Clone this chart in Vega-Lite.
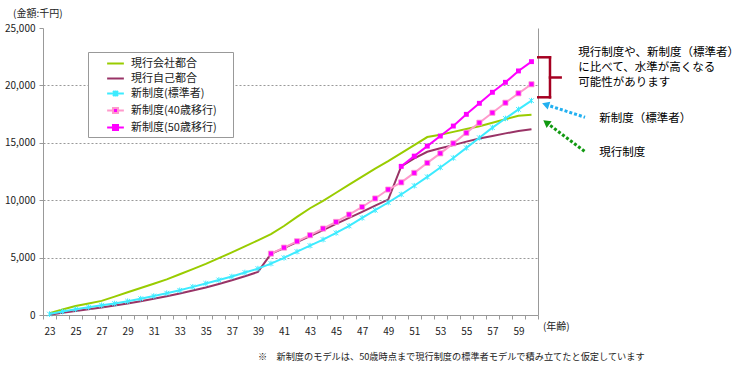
{
"$schema": "https://vega.github.io/schema/vega-lite/v6.json",
"width": 495, "height": 287,
"autosize": {"type": "none"},
"padding": {"left": 43, "top": 28, "right": 212, "bottom": 55},
"background": "white",
"config": {"view": {"stroke": null}, "font": "Noto Sans CJK JP"},
"datasets": {
"main": [
{"age":23,"series":"現行会社都合","value":150},{"age":24,"series":"現行会社都合","value":480},{"age":25,"series":"現行会社都合","value":780},{"age":26,"series":"現行会社都合","value":1000},{"age":27,"series":"現行会社都合","value":1230},{"age":28,"series":"現行会社都合","value":1600},{"age":29,"series":"現行会社都合","value":1980},{"age":30,"series":"現行会社都合","value":2350},{"age":31,"series":"現行会社都合","value":2720},{"age":32,"series":"現行会社都合","value":3100},{"age":33,"series":"現行会社都合","value":3550},{"age":34,"series":"現行会社都合","value":4000},{"age":35,"series":"現行会社都合","value":4450},{"age":36,"series":"現行会社都合","value":4950},{"age":37,"series":"現行会社都合","value":5450},{"age":38,"series":"現行会社都合","value":5980},{"age":39,"series":"現行会社都合","value":6500},{"age":40,"series":"現行会社都合","value":7050},{"age":41,"series":"現行会社都合","value":7750},{"age":42,"series":"現行会社都合","value":8550},{"age":43,"series":"現行会社都合","value":9300},{"age":44,"series":"現行会社都合","value":9950},{"age":45,"series":"現行会社都合","value":10650},{"age":46,"series":"現行会社都合","value":11350},{"age":47,"series":"現行会社都合","value":12050},{"age":48,"series":"現行会社都合","value":12750},{"age":49,"series":"現行会社都合","value":13400},{"age":50,"series":"現行会社都合","value":14100},{"age":51,"series":"現行会社都合","value":14800},{"age":52,"series":"現行会社都合","value":15500},{"age":53,"series":"現行会社都合","value":15700},{"age":54,"series":"現行会社都合","value":15950},{"age":55,"series":"現行会社都合","value":16200},{"age":56,"series":"現行会社都合","value":16450},{"age":57,"series":"現行会社都合","value":16750},{"age":58,"series":"現行会社都合","value":17050},{"age":59,"series":"現行会社都合","value":17350},{"age":60,"series":"現行会社都合","value":17450},
{"age":23,"series":"現行自己都合","value":30},{"age":24,"series":"現行自己都合","value":200},{"age":25,"series":"現行自己都合","value":350},{"age":26,"series":"現行自己都合","value":500},{"age":27,"series":"現行自己都合","value":650},{"age":28,"series":"現行自己都合","value":820},{"age":29,"series":"現行自己都合","value":1000},{"age":30,"series":"現行自己都合","value":1200},{"age":31,"series":"現行自己都合","value":1420},{"age":32,"series":"現行自己都合","value":1640},{"age":33,"series":"現行自己都合","value":1870},{"age":34,"series":"現行自己都合","value":2130},{"age":35,"series":"現行自己都合","value":2400},{"age":36,"series":"現行自己都合","value":2700},{"age":37,"series":"現行自己都合","value":3020},{"age":38,"series":"現行自己都合","value":3370},{"age":39,"series":"現行自己都合","value":3750},{"age":40,"series":"現行自己都合","value":5330},{"age":41,"series":"現行自己都合","value":5820},{"age":42,"series":"現行自己都合","value":6350},{"age":43,"series":"現行自己都合","value":6880},{"age":44,"series":"現行自己都合","value":7400},{"age":45,"series":"現行自己都合","value":7930},{"age":46,"series":"現行自己都合","value":8460},{"age":47,"series":"現行自己都合","value":8990},{"age":48,"series":"現行自己都合","value":9520},{"age":49,"series":"現行自己都合","value":10050},{"age":50,"series":"現行自己都合","value":12950},{"age":51,"series":"現行自己都合","value":13650},{"age":52,"series":"現行自己都合","value":14220},{"age":53,"series":"現行自己都合","value":14520},{"age":54,"series":"現行自己都合","value":14800},{"age":55,"series":"現行自己都合","value":15100},{"age":56,"series":"現行自己都合","value":15380},{"age":57,"series":"現行自己都合","value":15600},{"age":58,"series":"現行自己都合","value":15820},{"age":59,"series":"現行自己都合","value":16020},{"age":60,"series":"現行自己都合","value":16180},
{"age":23,"series":"新制度(標準者)","value":80},{"age":24,"series":"新制度(標準者)","value":300},{"age":25,"series":"新制度(標準者)","value":500},{"age":26,"series":"新制度(標準者)","value":680},{"age":27,"series":"新制度(標準者)","value":850},{"age":28,"series":"新制度(標準者)","value":1000},{"age":29,"series":"新制度(標準者)","value":1200},{"age":30,"series":"新制度(標準者)","value":1420},{"age":31,"series":"新制度(標準者)","value":1650},{"age":32,"series":"新制度(標準者)","value":1900},{"age":33,"series":"新制度(標準者)","value":2150},{"age":34,"series":"新制度(標準者)","value":2450},{"age":35,"series":"新制度(標準者)","value":2750},{"age":36,"series":"新制度(標準者)","value":3050},{"age":37,"series":"新制度(標準者)","value":3350},{"age":38,"series":"新制度(標準者)","value":3700},{"age":39,"series":"新制度(標準者)","value":4040},{"age":40,"series":"新制度(標準者)","value":4480},{"age":41,"series":"新制度(標準者)","value":4980},{"age":42,"series":"新制度(標準者)","value":5520},{"age":43,"series":"新制度(標準者)","value":6040},{"age":44,"series":"新制度(標準者)","value":6570},{"age":45,"series":"新制度(標準者)","value":7150},{"age":46,"series":"新制度(標準者)","value":7760},{"age":47,"series":"新制度(標準者)","value":8460},{"age":48,"series":"新制度(標準者)","value":9130},{"age":49,"series":"新制度(標準者)","value":9800},{"age":50,"series":"新制度(標準者)","value":10500},{"age":51,"series":"新制度(標準者)","value":11260},{"age":52,"series":"新制度(標準者)","value":12030},{"age":53,"series":"新制度(標準者)","value":12850},{"age":54,"series":"新制度(標準者)","value":13680},{"age":55,"series":"新制度(標準者)","value":14560},{"age":56,"series":"新制度(標準者)","value":15440},{"age":57,"series":"新制度(標準者)","value":16320},{"age":58,"series":"新制度(標準者)","value":17120},{"age":59,"series":"新制度(標準者)","value":17910},{"age":60,"series":"新制度(標準者)","value":18670},
{"age":40,"series":"新制度(40歳移行)","value":5350},{"age":41,"series":"新制度(40歳移行)","value":5870},{"age":42,"series":"新制度(40歳移行)","value":6420},{"age":43,"series":"新制度(40歳移行)","value":6950},{"age":44,"series":"新制度(40歳移行)","value":7530},{"age":45,"series":"新制度(40歳移行)","value":8110},{"age":46,"series":"新制度(40歳移行)","value":8750},{"age":47,"series":"新制度(40歳移行)","value":9410},{"age":48,"series":"新制度(40歳移行)","value":10150},{"age":49,"series":"新制度(40歳移行)","value":10930},{"age":50,"series":"新制度(40歳移行)","value":11550},{"age":51,"series":"新制度(40歳移行)","value":12380},{"age":52,"series":"新制度(40歳移行)","value":13250},{"age":53,"series":"新制度(40歳移行)","value":14080},{"age":54,"series":"新制度(40歳移行)","value":14950},{"age":55,"series":"新制度(40歳移行)","value":15870},{"age":56,"series":"新制度(40歳移行)","value":16750},{"age":57,"series":"新制度(40歳移行)","value":17620},{"age":58,"series":"新制度(40歳移行)","value":18490},{"age":59,"series":"新制度(40歳移行)","value":19310},{"age":60,"series":"新制度(40歳移行)","value":20100},
{"age":50,"series":"新制度(50歳移行)","value":12950},{"age":51,"series":"新制度(50歳移行)","value":13840},{"age":52,"series":"新制度(50歳移行)","value":14710},{"age":53,"series":"新制度(50歳移行)","value":15590},{"age":54,"series":"新制度(50歳移行)","value":16460},{"age":55,"series":"新制度(50歳移行)","value":17480},{"age":56,"series":"新制度(50歳移行)","value":18440},{"age":57,"series":"新制度(50歳移行)","value":19400},{"age":58,"series":"新制度(50歳移行)","value":20270},{"age":59,"series":"新制度(50歳移行)","value":21260},{"age":60,"series":"新制度(50歳移行)","value":22070}
]
},
"layer": [
{
"data": {"name": "main"},
"encoding": {
"x": {"field": "age", "type": "ordinal", "bandPosition": 0.5,
"scale": {"type": "band", "paddingInner": 0, "paddingOuter": 0},
"axis": {"title": null, "labelAngle": 0, "tickBand": "extent", "labelExpr": "datum.value % 2 == 1 ? datum.label : ''", "labelOverlap": false, "tickSize": 4, "labelPadding": 7, "domainColor": "#999", "tickColor": "#999", "labelFontSize": 10, "labelColor": "#222", "grid": false}},
"y": {"field": "value", "type": "quantitative",
"scale": {"domain": [0, 25000], "nice": false},
"axis": {"title": null, "values": [0, 5000, 10000, 15000, 20000, 25000], "format": ",d", "tickSize": 4, "labelPadding": 4, "labelFontSize": 10, "labelColor": "#222", "domainColor": "#999", "tickColor": "#999", "grid": true, "gridDash": [2, 2], "gridColor": "#999", "gridOpacity": {"condition": {"test": "datum.value == 25000 || datum.value == 0", "value": 0}, "value": 1}}}
},
"layer": [
{"mark": {"type": "point", "opacity": 0},
"encoding": {
"shape": {"field": "series", "type": "nominal", "scale": {"domain": ["現行会社都合","現行自己都合","新制度(標準者)","新制度(40歳移行)","新制度(50歳移行)"], "range": ["M-1,0H1","M-1,0H1","M-1,0H1M-0.3,-0.3L0.3,0.3M-0.3,0.3L0.3,-0.3M0,-0.35V0.35","M-1,0H-0.3M0.3,0H1M-0.3,-0.3H0.3V0.3H-0.3Z","M-1,0H-0.3M0.3,0H1M-0.3,-0.3H0.3V0.3H-0.3Z"]},
"legend": {"orient": "none", "legendX": 45, "legendY": 24, "title": " ", "titleOrient": "right", "titlePadding": 14, "titleFontSize": 11, "padding": 2, "symbolSize": 280, "symbolOffset": 16, "labelOffset": 6, "rowPadding": 0, "labelFontSize": 11, "labelColor": "#222", "strokeColor": "#999", "fillColor": "white", "symbolStrokeWidth": 1.5, "symbolOpacity": 1}},
"fill": {"field": "series", "type": "nominal", "scale": {"domain": ["現行会社都合","現行自己都合","新制度(標準者)","新制度(40歳移行)","新制度(50歳移行)"], "range": ["#99CC00","#993366","#3DEBFF","#FF00FF","#FF00FF"]},
"legend": {"orient": "none", "legendX": 45, "legendY": 24, "title": " ", "titleOrient": "right", "titlePadding": 14, "titleFontSize": 11, "padding": 2, "symbolSize": 280, "symbolOffset": 16, "labelOffset": 6, "rowPadding": 0, "labelFontSize": 11, "labelColor": "#222", "strokeColor": "#999", "fillColor": "white", "symbolStrokeWidth": 1.5, "symbolOpacity": 1}},
"stroke": {"field": "series", "type": "nominal", "scale": {"domain": ["現行会社都合","現行自己都合","新制度(標準者)","新制度(40歳移行)","新制度(50歳移行)"], "range": ["#99CC00","#993366","#3DEBFF","#FF99CC","#FF00FF"]},
"legend": {"orient": "none", "legendX": 45, "legendY": 24, "title": " ", "titleOrient": "right", "titlePadding": 14, "titleFontSize": 11, "padding": 2, "symbolSize": 280, "symbolOffset": 16, "labelOffset": 6, "rowPadding": 0, "labelFontSize": 11, "labelColor": "#222", "strokeColor": "#999", "fillColor": "white", "symbolStrokeWidth": 1.5, "symbolOpacity": 1}}
}},
{"mark": {"type": "line"},
"encoding": {
"color": {"field": "series", "type": "nominal", "legend": null, "scale": {"domain": ["現行会社都合","現行自己都合","新制度(標準者)","新制度(40歳移行)","新制度(50歳移行)"], "range": ["#99CC00","#993366","#3DEBFF","#FF99CC","#FF00FF"]}},
"strokeWidth": {"field": "series", "type": "nominal", "legend": null, "scale": {"domain": ["現行会社都合","現行自己都合","新制度(標準者)","新制度(40歳移行)","新制度(50歳移行)"], "range": [2, 2, 1, 1, 1]}}
}},
{"transform": [{"filter": "datum.series == '新制度(標準者)'"}],
"mark": {"type": "point", "shape": "M-1,-1L1,1M-1,1L1,-1M0,-1.2L0,1.2", "size": 22, "color": "#3DEBFF", "strokeWidth": 1, "opacity": 1}},
{"transform": [{"filter": "datum.series == '新制度(40歳移行)'"}],
"mark": {"type": "square", "size": 26, "fill": "#FF00FF", "stroke": "#FF99CC", "strokeWidth": 0.8, "opacity": 1}},
{"transform": [{"filter": "datum.series == '新制度(50歳移行)'"}],
"mark": {"type": "square", "size": 24, "color": "#FF00FF", "opacity": 1}}
]
},
{
"encoding": {
"x": {"field": "ax", "type": "quantitative", "scale": {"domain": [22.5, 60.5], "nice": false, "zero": false}, "axis": null},
"y": {"field": "ay", "type": "quantitative", "scale": {"domain": [0, 25000], "nice": false, "zero": false},
"axis": {"orient": "right", "labels": false, "ticks": false, "grid": false, "title": null, "domainColor": "#999"}}
},
"layer": [
{"data": {"values": [
{"ax": 60.52, "ay": 22448, "ax2": 61.42, "ay2": 22448},
{"ax": 61.42, "ay": 22448, "ax2": 61.42, "ay2": 18964},
{"ax": 60.52, "ay": 18964, "ax2": 61.42, "ay2": 18964},
{"ax": 61.42, "ay": 20689, "ax2": 62.24, "ay2": 20689}
]},
"mark": {"type": "rule", "color": "#A50021", "strokeWidth": 2.5, "strokeCap": "square"},
"encoding": {"x2": {"field": "ax2"}, "y2": {"field": "ay2"}}},
{"data": {"values": [{"ax": 61.08, "ay": 18337, "ax2": 64.11, "ay2": 17222}]},
"mark": {"type": "rule", "color": "#22B0F0", "strokeWidth": 3, "strokeDash": [3, 2]},
"encoding": {"x2": {"field": "ax2"}, "y2": {"field": "ay2"}}},
{"data": {"values": [{"ax": 61.08, "ay": 18337}]},
"mark": {"type": "point", "shape": "triangle-left", "angle": 18, "filled": true, "color": "#22B0F0", "size": 70, "opacity": 1}},
{"data": {"values": [{"ax": 61.13, "ay": 16777, "ax2": 64.11, "ay2": 14225}]},
"mark": {"type": "rule", "color": "#119911", "strokeWidth": 3, "strokeDash": [3, 2]},
"encoding": {"x2": {"field": "ax2"}, "y2": {"field": "ay2"}}},
{"data": {"values": [{"ax": 61.13, "ay": 16777}]},
"mark": {"type": "point", "shape": "triangle-left", "angle": 37, "filled": true, "color": "#119911", "size": 70, "opacity": 1}},
{"data": {"values": [
{"ax": 63.59, "ay": 22849, "label": "現行制度や、新制度（標準者）"},
{"ax": 63.59, "ay": 21542, "label": "に比べて、水準が高くなる"},
{"ax": 63.59, "ay": 20236, "label": "可能性があります"},
{"ax": 65.21, "ay": 17047, "label": "新制度（標準者）"},
{"ax": 65.21, "ay": 14086, "label": "現行制度"}
]},
"mark": {"type": "text", "align": "left", "baseline": "middle", "fontSize": 11.5, "color": "#000"},
"encoding": {"text": {"field": "label"}}},
{"data": {"values": [
{"ax": 60.88, "ay": -1019, "label": "(年齢)"},
{"ax": 20.2, "ay": 26220, "label": "(金額:千円)"}
]},
"mark": {"type": "text", "align": "left", "baseline": "middle", "fontSize": 10, "color": "#222"},
"encoding": {"text": {"field": "label"}}},
{"data": {"values": [
{"ax": 39.01, "ay": -3659, "label": "※　新制度のモデルは、50歳時点まで現行制度の標準者モデルで積み立てたと仮定しています"}
]},
"mark": {"type": "text", "align": "left", "baseline": "middle", "fontSize": 9.2, "color": "#222"},
"encoding": {"text": {"field": "label"}}}
]
}
],
"resolve": {"scale": {"x": "independent", "y": "independent"}}
}
